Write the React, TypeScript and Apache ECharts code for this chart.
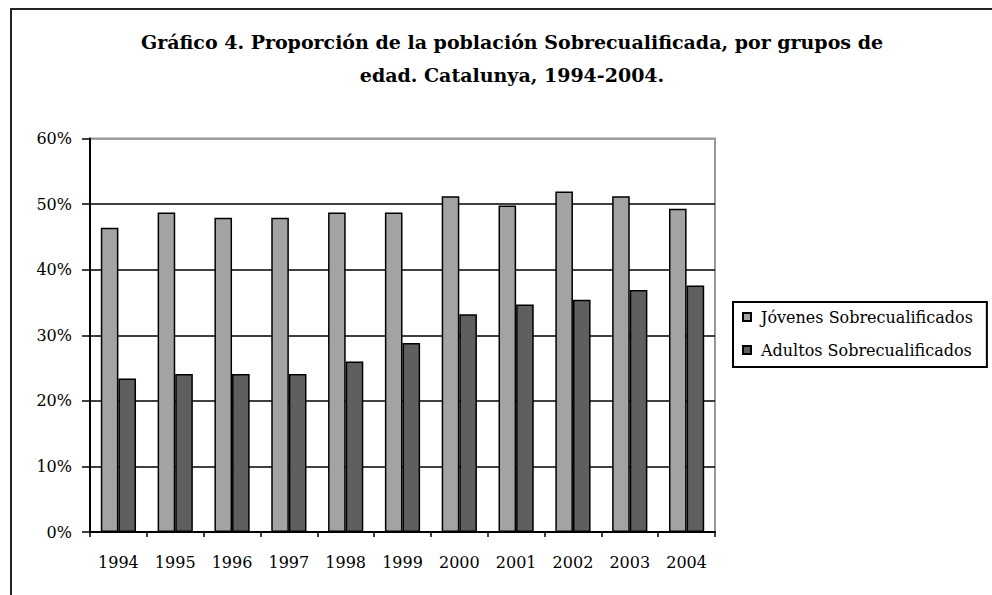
import React, { useEffect, useRef } from "react";
import * as echarts from "echarts";

const years = ["1994", "1995", "1996", "1997", "1998", "1999", "2000", "2001", "2002", "2003", "2004"];
const jovenes = [0.464, 0.487, 0.479, 0.479, 0.487, 0.487, 0.512, 0.498, 0.519, 0.512, 0.493];
const adultos = [0.234, 0.241, 0.241, 0.241, 0.26, 0.288, 0.332, 0.347, 0.354, 0.369, 0.376];
const seriesNames = ["Jóvenes Sobrecualificados", "Adultos Sobrecualificados"];
const titleText = "Gráfico 4. Proporción de la población Sobrecualificada, por grupos de\nedad. Catalunya, 1994-2004.";

const FONT = "'DejaVu Serif', 'Liberation Serif', serif";

export default function App() {
  const ref = useRef<HTMLDivElement>(null);
  useEffect(() => {
    if (!ref.current) return;
    const chart = echarts.init(ref.current, undefined, { renderer: "svg" });
    chart.setOption({
      animation: false,
      backgroundColor: "#ffffff",
      graphic: [
        {
          type: "polyline",
          shape: { points: [[11, 600], [11, 9], [1000, 9]] },
          style: { stroke: "#222", lineWidth: 2, fill: "none" },
        },
      ],
      title: {
        text: titleText,
        left: 507,
        top: 20,
        textAlign: "center",
        textStyle: {
          fontFamily: FONT,
          fontWeight: "bold",
          fontSize: 19,
          lineHeight: 33,
          color: "#000",
        },
      },
      legend: {
        orient: "vertical",
        left: 733,
        top: 302,
        padding: [6, 14, 8, 9],
        borderColor: "#000",
        borderWidth: 2,
        itemWidth: 8,
        itemHeight: 8,
        itemGap: 15,
        icon: "rect",
        data: seriesNames,
        textStyle: {
          fontFamily: FONT,
          fontSize: 16,
          color: "#000",
          padding: [0, 0, 0, 5],
          lineHeight: 18,
        },
      },
      grid: {
        left: 90,
        right: 277,
        top: 138.5,
        bottom: 63,
        show: true,
        borderColor: "#999",
        borderWidth: 2,
        backgroundColor: "transparent",
      },
      xAxis: {
        type: "category",
        data: years,
        axisLine: { lineStyle: { color: "#000", width: 2 } },
        axisTick: { show: true, length: 5, lineStyle: { color: "#000", width: 1.5 } },
        axisLabel: { fontFamily: FONT, fontSize: 16, color: "#000", margin: 22 },
      },
      yAxis: {
        type: "value",
        min: 0,
        max: 0.6,
        interval: 0.1,
        axisLine: { show: true, lineStyle: { color: "#000", width: 2 } },
        axisTick: { show: true, length: 8, lineStyle: { color: "#000", width: 1.5 } },
        axisLabel: {
          fontFamily: FONT,
          fontSize: 16,
          color: "#000",
          margin: 18,
          formatter: (v: number) => Math.round(v * 100) + "%",
        },
        splitLine: {
          show: true,
          lineStyle: { color: ["#000", "#000", "#000", "#000", "#000", "#000", "#999"], width: 1.5 },
        },
      },
      series: [
        {
          name: seriesNames[0],
          type: "bar",
          data: jovenes,
          barGap: "0%",
          barCategoryGap: "38%",
          itemStyle: { color: "#a3a3a3", borderColor: "#000", borderWidth: 1.5 },
        },
        {
          name: seriesNames[1],
          type: "bar",
          data: adultos,
          itemStyle: { color: "#5f5f5f", borderColor: "#000", borderWidth: 1.5 },
        },
      ],
    });
    return () => chart.dispose();
  }, []);
  return <div ref={ref} style={{ width: 992, height: 595, position: "absolute", left: 0, top: 0 }} />;
}
